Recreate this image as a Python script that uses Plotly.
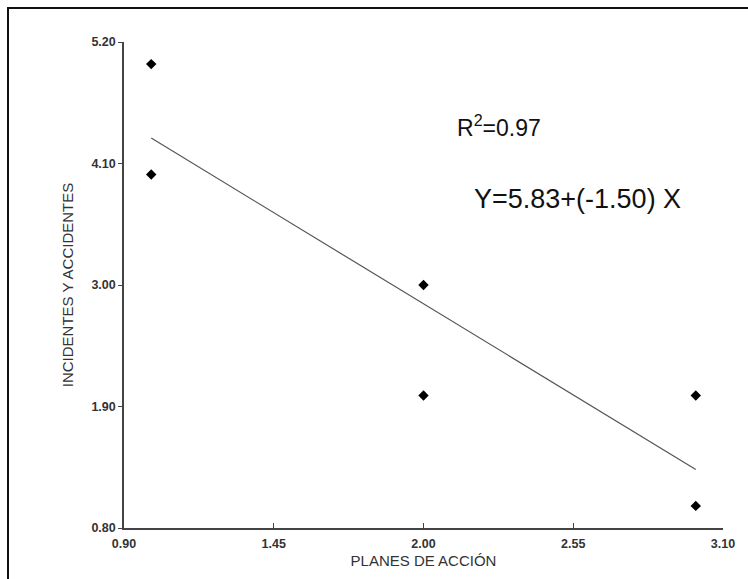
import plotly.graph_objects as go

planes = [1, 1, 2, 2, 3, 3]
incidentes = [5.0, 4.0, 3.0, 2.0, 2.0, 1.0]
intercept = 5.83
slope = -1.50
fit_x = [1, 3]
fit_y = [intercept + slope * x for x in fit_x]

x_ticks = [0.90, 1.45, 2.00, 2.55, 3.10]
y_ticks = [0.80, 1.90, 3.00, 4.10, 5.20]

W, H = 748, 579
L, R, T, B = 124, 25, 42, 51
pw, ph = W - L - R, H - T - B

fig = go.Figure()
fig.add_trace(go.Scatter(x=fit_x, y=fit_y, mode="lines",
                         line=dict(color="#555555", width=1.2), hoverinfo="skip"))
fig.add_trace(go.Scatter(x=planes, y=incidentes, mode="markers",
                         marker=dict(symbol="diamond", size=8, color="black")))

axis_font = dict(family="Liberation Sans, Arial", size=12.5, color="#333333", weight="bold")
title_font = dict(family="Liberation Sans, Arial", size=15, color="#333333")
fig.update_layout(
    width=W, height=H, showlegend=False,
    margin=dict(l=L, r=R, t=T, b=B),
    plot_bgcolor="white", paper_bgcolor="white",
    xaxis=dict(range=[0.90, 3.10], tickvals=x_ticks, ticktext=[f"{v:.2f}" for v in x_ticks],
               showgrid=False, zeroline=False, showline=True, linecolor="#444444", linewidth=1.5,
               ticks="inside", ticklen=5, tickcolor="#444444", tickfont=axis_font,
               ticklabelstandoff=3,
               title=dict(text="PLANES DE ACCIÓN", font=title_font, standoff=6)),
    yaxis=dict(range=[0.80, 5.20], tickvals=y_ticks, ticktext=[f"{v:.2f}" for v in y_ticks],
               showgrid=False, zeroline=False, showline=True, linecolor="#444444", linewidth=1.5,
               ticks="outside", ticklen=4, tickcolor="#444444", tickfont=axis_font,
               title=dict(text="INCIDENTES Y ACCIDENTES", font=title_font, standoff=14)),
)

# outer frame (left and top visible)
fig.add_shape(type="rect", xref="paper", yref="paper",
              x0=(8 - L) / pw, x1=(W + 5 - L) / pw,
              y0=-(H + 5 - T - ph) / ph, y1=1 + (T - 8) / ph,
              line=dict(color="#111111", width=2))

fig.add_annotation(x=(455 - L) / pw, y=1 - (126 - T) / ph, xref="paper", yref="paper",
                   text="R<sup>2</sup>=0.97", showarrow=False, xanchor="left", yanchor="middle",
                   font=dict(family="Liberation Sans, Arial", size=23, color="#111111"))
fig.add_annotation(x=(472 - L) / pw, y=1 - (199 - T) / ph, xref="paper", yref="paper",
                   text="Y=5.83+(-1.50) X", showarrow=False, xanchor="left", yanchor="middle",
                   font=dict(family="Liberation Sans, Arial", size=27, color="#111111"))

fig.write_html("out.html")
